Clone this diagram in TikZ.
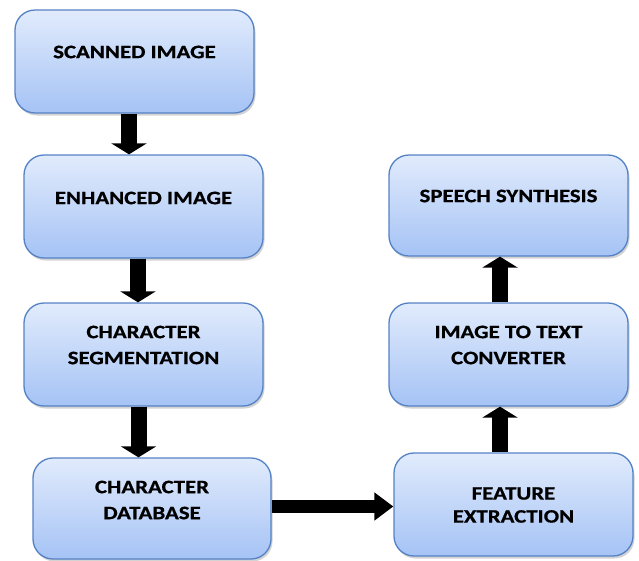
\documentclass[tikz,border=0pt]{standalone}
\usepackage{fontspec}
\newfontfamily\calib{Carlito}[FakeStretch=1.2,FakeBold=0.8]
\usetikzlibrary{arrows.meta,shadows}
\definecolor{boxtop}{RGB}{225,235,252}
\definecolor{boxbot}{RGB}{165,195,245}
\definecolor{boxline}{RGB}{84,130,196}

\begin{document}
\begin{tikzpicture}[x=1pt,y=-1pt,
    stage/.style={rounded corners=20pt, draw=boxline, line width=1.3pt,
        top color=boxtop, bottom color=boxbot,
        minimum width=239pt, minimum height=103pt, inner sep=0pt,
        drop shadow={shadow xshift=1.5pt, shadow yshift=-2.5pt, opacity=0.35}},
    caption/.style={font=\calib\bfseries\fontsize{19}{26}\selectfont, align=center, inner sep=0pt},
    vflow/.style={line width=16pt, -{Triangle[width=35pt,length=11pt]}},
    hflow/.style={line width=13pt, -{Triangle[width=27pt,length=19pt]}}]
    \useasboundingbox (0,0) rectangle (639,560);

        \node[stage] (scan) at (134.5,61.5) {};
        \node[caption] (scan-t) at (134.5,52) {SCANNED IMAGE};

        \node[stage] (enh) at (143.5,206.5) {};
        \node[caption] (enh-t) at (143.5,198) {ENHANCED IMAGE};

        \node[stage] (seg) at (143.5,354.5) {};
        \node[caption] (seg-t) at (143.5,345) {CHARACTER\\SEGMENTATION};

        \node[stage, minimum width=238pt, minimum height=101pt] (db) at (152,508.5) {};
        \node[caption] (db-t) at (152,500) {CHARACTER\\DATABASE};

        \node[stage] (fe) at (513.5,504.5) {};
        \node[caption, font=\calib\bfseries\fontsize{19}{23}\selectfont] (fe-t) at (513.5,505) {FEATURE\\EXTRACTION};

        \node[stage] (conv) at (508.5,354.5) {};
        \node[caption] (conv-t) at (508.5,345) {IMAGE TO TEXT\\CONVERTER};

        \node[stage, minimum height=101pt] (speech) at (508.5,205.5) {};
        \node[caption] (speech-t) at (508.5,196) {SPEECH SYNTHESIS};

        \draw[vflow] ([xshift=-5.5pt]scan.south) -- ([xshift=-14.5pt]enh.north);
        \draw[vflow] ([xshift=-5.5pt]enh.south) -- ([xshift=-5.5pt]seg.north);
        \draw[vflow] ([xshift=-5pt]seg.south) -- ([xshift=-13.5pt]db.north);
        \draw[hflow] ([yshift=2pt]db.east) -- ([yshift=-2pt]fe.west);
        \draw[vflow] ([xshift=-13.5pt]fe.north) -- ([xshift=-8.5pt]conv.south);
        \draw[vflow] ([xshift=-8.5pt]conv.north) -- ([xshift=-8.5pt]speech.south);
    \end{tikzpicture}
\end{document}
